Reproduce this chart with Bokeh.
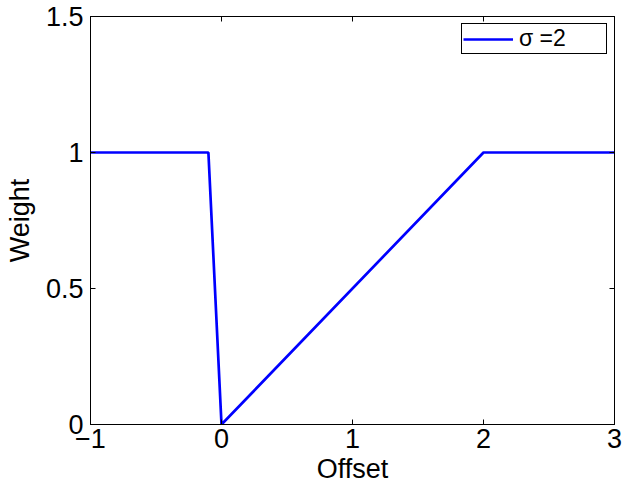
from bokeh.plotting import figure
from bokeh.models import LinearAxis, Range1d, FixedTicker, Legend, LegendItem
from bokeh.embed import file_html
from bokeh.resources import INLINE

offset = [-1, -0.1, 0, 2, 3]
weight = [1, 1, 0, 1, 1]
x_ticks = [-1, 0, 1, 2, 3]
x_labels = ["−1", "0", "1", "2", "3"]
y_ticks = [0, 0.5, 1, 1.5]
y_labels = ["0", "0.5", "1", "1.5"]
series_label = "σ =2"

FONT = "Liberation Sans"
FS = "27px"

p = figure(width=637, height=484, output_backend="svg", toolbar_location=None,
           x_range=Range1d(-1, 3), y_range=Range1d(0, 1.5),
           frame_width=524, frame_height=408,
           min_border_left=90, min_border_top=16, min_border_right=23, min_border_bottom=60)
p.xgrid.visible = False
p.ygrid.visible = False
p.outline_line_color = "black"
p.outline_line_width = 1

r = p.line(offset, weight, line_color="#0000ff", line_width=2.7)

def style(ax, ticks, labels, show):
    ax.ticker = FixedTicker(ticks=ticks)
    ax.major_tick_in = 5
    ax.major_tick_out = 0
    ax.minor_tick_in = 0
    ax.minor_tick_out = 0
    ax.axis_line_color = "black"
    ax.major_tick_line_color = "black"
    ax.major_label_text_font = FONT
    ax.major_label_text_color = "black"
    ax.axis_label_text_font = FONT
    ax.axis_label_text_font_size = FS
    ax.axis_label_text_font_style = "normal"
    ax.axis_label_text_color = "black"
    if show:
        ax.major_label_overrides = {t: l for t, l in zip(ticks, labels)}
        ax.major_label_text_font_size = FS
    else:
        ax.major_label_overrides = {t: "" for t in ticks}
        ax.major_label_text_font_size = "1px"
        ax.major_label_standoff = 0

style(p.xaxis[0], x_ticks, x_labels, True)
style(p.yaxis[0], y_ticks, y_labels, True)
p.xaxis[0].axis_label = "Offset"
p.yaxis[0].axis_label = "Weight"
p.xaxis[0].major_label_standoff = 4
p.xaxis[0].axis_label_standoff = 3
p.yaxis[0].major_label_standoff = 7
p.yaxis[0].axis_label_standoff = 8

top = LinearAxis()
style(top, x_ticks, x_labels, False)
p.add_layout(top, "above")
right = LinearAxis()
style(right, y_ticks, y_labels, False)
p.add_layout(right, "right")

legend = Legend(items=[LegendItem(label=series_label, renderers=[r])],
                location="top_right")
legend.label_text_font = FONT
legend.label_text_font_size = "23px"
legend.label_text_color = "black"
legend.border_line_color = "black"
legend.border_line_width = 1
legend.border_line_alpha = 1
legend.margin = 7
legend.padding = 1
legend.spacing = 0
legend.glyph_width = 50
legend.glyph_height = 18
legend.label_standoff = 6
legend.label_height = 18
legend.label_width = 86
p.add_layout(legend)

open("out.html", "w").write(file_html(p, INLINE))
